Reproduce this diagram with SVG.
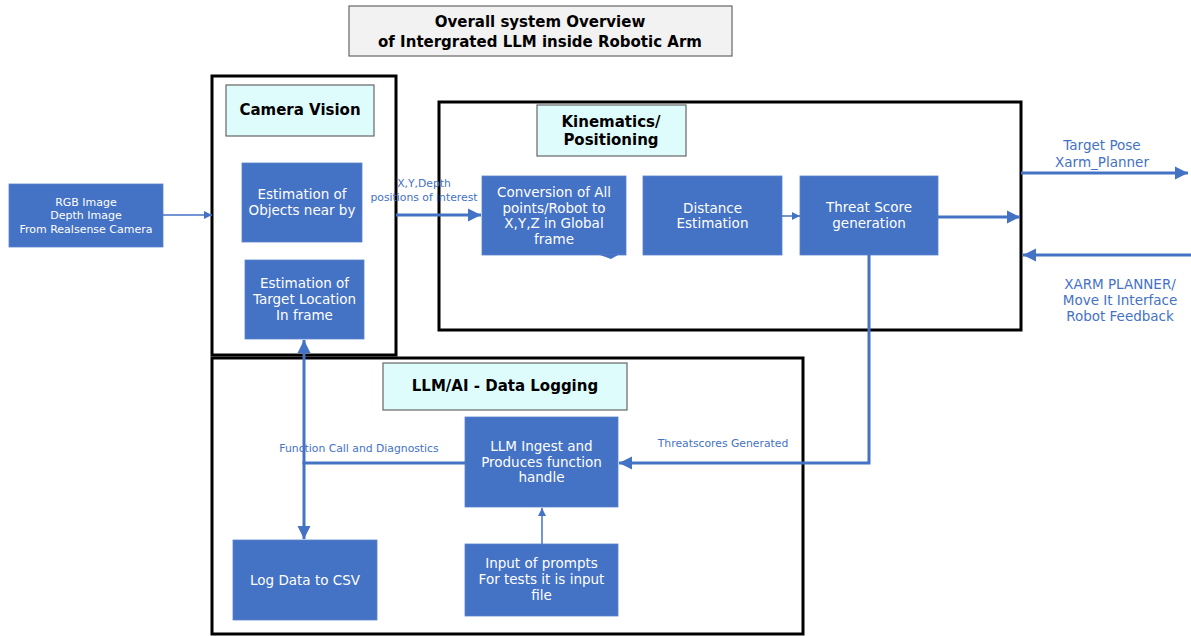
<svg xmlns="http://www.w3.org/2000/svg" width="1191" height="636" viewBox="0 0 1191 636">
<style>
  text { font-family: "DejaVu Sans", Verdana, sans-serif; text-anchor: middle; }
  .frame { fill: none; stroke: #000; stroke-width: 3; }
  .hdr { fill: #dffcfc; stroke: #666; stroke-width: 1.2; }
  .hdrt { font-size: 15px; font-weight: bold; fill: #000; }
  .node { fill: #4472c4; stroke: #5b83cc; stroke-width: 0.8; }
  .nt { font-size: 13.5px; fill: #fff; }
  .small { font-size: 11px; fill: #fff; }
  .lbl { font-size: 10.8px; fill: #4472c4; }
  .lblb { font-size: 13.5px; fill: #4472c4; }
  .thick { fill: none; stroke: #4472c4; stroke-width: 3; }
  .thin { fill: none; stroke: #4472c4; stroke-width: 1.5; }
</style>
<defs>
  <marker id="ah" markerUnits="userSpaceOnUse" markerWidth="14" markerHeight="14" refX="13" refY="7" orient="auto">
    <path d="M0,0.5 L13,7 L0,13.5 Z" fill="#4472c4"/>
  </marker>
  <marker id="ahs" markerUnits="userSpaceOnUse" markerWidth="9" markerHeight="9" refX="8" refY="4.5" orient="auto">
    <path d="M0,0.5 L8,4.5 L0,8.5 Z" fill="#4472c4"/>
  </marker>
</defs>

<g id="title">
  <rect x="349" y="6" width="383" height="50" fill="#f2f2f2" stroke="#666" stroke-width="1.2"/>
  <text x="540" y="27" class="hdrt">Overall system Overview</text>
  <text x="540" y="47" class="hdrt">of Intergrated LLM inside Robotic Arm</text>
</g>

<g id="camera-vision">
  <rect x="212" y="76" width="184" height="279" class="frame"/>
  <rect x="226" y="85" width="148" height="51" class="hdr"/>
  <text x="300" y="115" class="hdrt">Camera Vision</text>
</g>

<g id="kinematics">
  <rect x="439" y="102" width="582" height="228" class="frame"/>
  <rect x="537" y="105" width="149" height="51" class="hdr"/>
  <text x="611" y="127" class="hdrt">Kinematics/</text>
  <text x="611" y="145" class="hdrt">Positioning</text>
</g>

<g id="llm-ai">
  <rect x="212" y="358" width="591" height="276" class="frame"/>
  <rect x="383" y="363" width="244" height="47" class="hdr"/>
  <text x="505" y="391" class="hdrt">LLM/AI - Data Logging</text>
</g>

<g id="rgb-input">
  <rect x="9" y="184" width="154" height="63" class="node"/>
  <text x="86" y="206" class="small">RGB Image</text>
  <text x="86" y="219" class="small">Depth Image</text>
  <text x="86" y="233" class="small">From Realsense Camera</text>
</g>

<g id="objects-nearby">
  <rect x="242" y="163" width="120" height="79" class="node"/>
  <text x="302" y="199" class="nt">Estimation of</text>
  <text x="302" y="215" class="nt">Objects near by</text>
</g>

<g id="target-location">
  <rect x="245" y="260" width="119" height="79" class="node"/>
  <text x="304.5" y="288" class="nt">Estimation of</text>
  <text x="304.5" y="304" class="nt">Target Location</text>
  <text x="304.5" y="320" class="nt">In frame</text>
</g>

<g id="conversion">
  <rect x="482" y="176" width="144" height="79" class="node"/>
  <path d="M600,255 L618,255 L611,259 Z" fill="#4472c4"/>
  <text x="554" y="197" class="nt">Conversion of All</text>
  <text x="554" y="213" class="nt">points/Robot to</text>
  <text x="554" y="228" class="nt">X,Y,Z in Global</text>
  <text x="554" y="244" class="nt">frame</text>
</g>

<g id="distance">
  <rect x="643" y="176" width="139" height="79" class="node"/>
  <text x="712.5" y="213" class="nt">Distance</text>
  <text x="712.5" y="228" class="nt">Estimation</text>
</g>

<g id="threat-score">
  <rect x="800" y="176" width="138" height="79" class="node"/>
  <text x="869" y="212" class="nt">Threat Score</text>
  <text x="869" y="228" class="nt">generation</text>
</g>

<g id="llm-ingest">
  <rect x="465" y="417" width="153" height="90" class="node"/>
  <text x="541.5" y="451" class="nt">LLM Ingest and</text>
  <text x="541.5" y="467" class="nt">Produces function</text>
  <text x="541.5" y="482" class="nt">handle</text>
</g>

<g id="log-data">
  <rect x="233" y="540" width="144" height="80" class="node"/>
  <text x="305" y="585" class="nt">Log Data to CSV</text>
</g>

<g id="input-prompts">
  <rect x="465" y="544" width="153" height="72" class="node"/>
  <text x="541.5" y="568" class="nt">Input of prompts</text>
  <text x="541.5" y="584" class="nt">For tests it is input</text>
  <text x="541.5" y="600" class="nt">file</text>
</g>

<g id="connectors">
  <line x1="163" y1="215" x2="212" y2="215" class="thin" marker-end="url(#ahs)"/>
  <line x1="396" y1="215" x2="481" y2="215" class="thick" marker-end="url(#ah)"/>
  <line x1="782" y1="216" x2="800" y2="216" class="thin" marker-end="url(#ahs)"/>
  <line x1="938" y1="217" x2="1020" y2="217" class="thick" marker-end="url(#ah)"/>
  <line x1="1021" y1="173" x2="1188" y2="173" class="thick" marker-end="url(#ah)"/>
  <line x1="1191" y1="255" x2="1023" y2="255" class="thick" marker-end="url(#ah)"/>
  <polyline points="869,255 869,463 619,463" class="thick" marker-end="url(#ah)"/>
  <line x1="304" y1="450" x2="304" y2="340" class="thick" marker-end="url(#ah)"/>
  <line x1="304" y1="450" x2="304" y2="539" class="thick" marker-end="url(#ah)"/>
  <line x1="302.5" y1="463" x2="465" y2="463" class="thick"/>
  <line x1="542" y1="544" x2="542" y2="508" class="thin" marker-end="url(#ahs)"/>

  <text x="424" y="187" class="lbl">X,Y,Depth</text>
  <text x="424" y="201" class="lbl">positions of interest</text>
  <text x="1102" y="150" class="lblb">Target Pose</text>
  <text x="1102" y="167" class="lblb">Xarm_Planner</text>
  <text x="1120" y="289" class="lblb">XARM PLANNER/</text>
  <text x="1120" y="305" class="lblb">Move It Interface</text>
  <text x="1120" y="321" class="lblb">Robot Feedback</text>
  <text x="723" y="447" class="lbl">Threatscores Generated</text>
  <text x="359" y="452" class="lbl">Function Call and Diagnostics</text>
</g>
</svg>
